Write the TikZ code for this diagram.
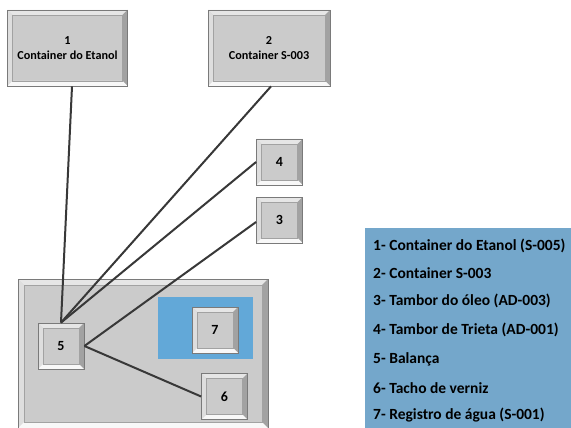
\documentclass[tikz,border=0pt]{standalone}
\usepackage{fontspec}
\setmainfont{Carlito}
\usetikzlibrary{calc}

\definecolor{face}{HTML}{CBCBCB}
\definecolor{edgegray}{HTML}{7A7A7A}
\definecolor{bvtop}{HTML}{E6E6E6}
\definecolor{bvleft}{HTML}{DEDEDE}
\definecolor{bvright}{HTML}{A2A2A2}
\definecolor{bvbottom}{HTML}{F8F8F8}
\definecolor{wire}{HTML}{383838}
\definecolor{zoneblue}{HTML}{62A8D8}
\definecolor{legendblue}{HTML}{74A7CB}

\newcommand\bvw{5pt}

\tikzset{
  bevel/.style={draw=edgegray, fill=face, line width=0.8pt, inner sep=0pt,
    font=\bfseries, align=center,
    path picture={
      \coordinate (pnw) at (path picture bounding box.north west);
      \coordinate (pne) at (path picture bounding box.north east);
      \coordinate (psw) at (path picture bounding box.south west);
      \coordinate (pse) at (path picture bounding box.south east);
      \coordinate (qnw) at ($(pnw)+(\bvw,-\bvw)$);
      \coordinate (qne) at ($(pne)+(-\bvw,-\bvw)$);
      \coordinate (qsw) at ($(psw)+(\bvw,\bvw)$);
      \coordinate (qse) at ($(pse)+(-\bvw,\bvw)$);
      \fill[bvtop] (pnw) -- (pne) -- (qne) -- (qnw) -- cycle;
      \fill[bvleft] (pnw) -- (qnw) -- (qsw) -- (psw) -- cycle;
      \fill[bvright] (pne) -- (qne) -- (qse) -- (pse) -- cycle;
      \fill[bvbottom] (psw) -- (pse) -- (qse) -- (qsw) -- cycle;
      \draw[edgegray!70, line width=0.5pt] (qnw) rectangle (qse);
    }},
  smallbox/.style={bevel, minimum width=46pt, minimum height=46pt, font=\bfseries\fontsize{14}{16}\selectfont},
  bigbox/.style={bevel, minimum width=120pt, minimum height=76pt, font=\bfseries\fontsize{12.2}{15}\selectfont},
  wireline/.style={draw=wire, line width=2pt},
  legendtext/.style={anchor=west, inner sep=0pt, font=\bfseries\fontsize{15.5}{18}\selectfont}
}

\begin{document}
\begin{tikzpicture}[x=1pt, y=-1pt]
  \useasboundingbox (0,0) rectangle (571,428);

  % enclosing area for the weighing station
  \begingroup
  \renewcommand\bvw{6pt}
  \node[bevel, minimum width=250pt, minimum height=149pt] (area) at (143,353.5) {};
  \endgroup
  \fill[zoneblue] (158,297) rectangle (253,359);

  % containers on top
  \node[bigbox] (b1) at (67.5,48) {1\\Container do Etanol};
  \node[bigbox, minimum width=122pt] (b2) at (269,48) {2\\Container S-003};

  % drums
  \node[smallbox] (b4) at (279.5,162) {4};
  \node[smallbox] (b3) at (279.5,220) {3};

  % inside the area
  \node[smallbox] (b5) at (61,346) {5};
  \node[smallbox] (b7) at (215,330) {7};
  \node[smallbox] (b6) at (224.5,396.5) {6};

  % connections
  \draw[wireline] ([xshift=4.5pt]b1.south) -- (b5.north);
  \draw[wireline] ([xshift=2pt]b2.south) -- (b5.north);
  \draw[wireline] (b4.west) -- (b5.north);
  \draw[wireline] ([yshift=-2pt]b3.west) -- (b5.east);
  \draw[wireline] (b5.east) -- (b6.west);

  % legend
  \fill[legendblue] (365,228) rectangle (571,428);
  \node[legendtext] (l1) at (373,246) {1- Container do Etanol (S-005)};
  \node[legendtext] (l2) at (373,273) {2- Container S-003};
  \node[legendtext] (l3) at (373,301) {3- Tambor do óleo (AD-003)};
  \node[legendtext] (l4) at (373,330) {4- Tambor de Trieta (AD-001)};
  \node[legendtext] (l5) at (373,359) {5- Balança};
  \node[legendtext] (l6) at (373,388) {6- Tacho de verniz};
  \node[legendtext] (l7) at (373,415) {7- Registro de água (S-001)};
\end{tikzpicture}
\end{document}
